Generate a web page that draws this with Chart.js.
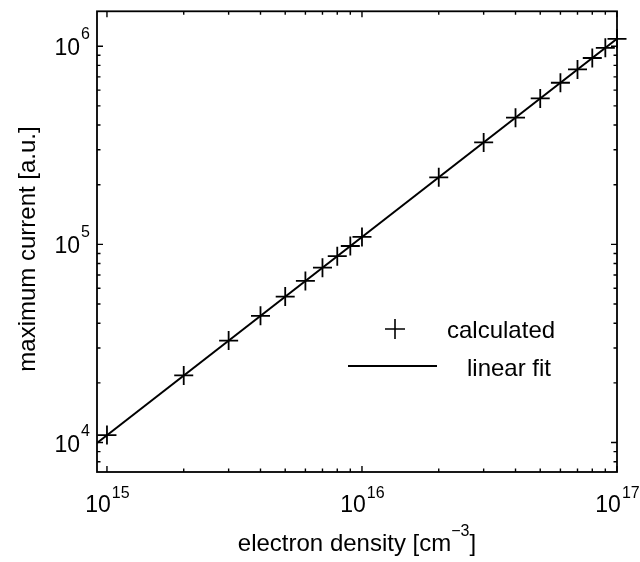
<!DOCTYPE html>
<html>
<head>
<meta charset="utf-8">
<script src="https://cdn.jsdelivr.net/npm/chart.js@4/dist/chart.umd.min.js"></script>
<style>
  html, body { margin: 0; padding: 0; background: #fff; }
  #wrap { width: 640px; height: 562px; position: relative; }
</style>
</head>
<body>
<div id="wrap"><canvas id="chart"></canvas></div>
<script>
// electron density [cm^-3]
const densities = [1e15, 2e15, 3e15, 4e15, 5e15, 6e15, 7e15, 8e15, 9e15,
                   1e16, 2e16, 3e16, 4e16, 5e16, 6e16, 7e16, 8e16, 9e16, 1e17];
// maximum current [a.u.]
const currents = [1.09e4, 2.18e4, 3.27e4, 4.36e4, 5.45e4, 6.54e4, 7.63e4, 8.72e4, 9.81e4,
                  1.09e5, 2.18e5, 3.27e5, 4.36e5, 5.45e5, 6.54e5, 7.63e5, 8.72e5, 9.81e5, 1.09e6];
// linear fit end points
const fitX = [9.14e14, 1e17];
const fitY = [9.95e3, 1.09e6];

const xMajor = [1e15, 1e16, 1e17];
const xMajorExp = ['15', '16', '17'];
const yMajor = [1e4, 1e5, 1e6];
const yMajorExp = ['4', '5', '6'];
const legendLabels = ['calculated', 'linear fit'];

const FONT = '"Liberation Sans", Arial, sans-serif';

function minorTicks(min, max) {
    const out = [];
    for (let e = Math.floor(Math.log10(min)); e <= Math.ceil(Math.log10(max)); e++) {
        for (let m = 1; m <= 9; m++) {
            const v = m * Math.pow(10, e);
            if (v >= min * 0.999 && v <= max * 1.001) out.push({ v, major: m === 1 });
        }
    }
    return out;
}

function drawCross(ctx, x, y, r) {
    ctx.beginPath();
    ctx.moveTo(x - r, y); ctx.lineTo(x + r, y);
    ctx.moveTo(x, y - r); ctx.lineTo(x, y + r);
    ctx.stroke();
}

const framePlugin = {
    id: 'frame',
    afterDraw(chart) {
        const { ctx, chartArea: a, scales: { x, y } } = chart;
        ctx.save();
        ctx.strokeStyle = '#000';
        ctx.fillStyle = '#000';
        ctx.lineWidth = 1.8;
        ctx.strokeRect(a.left, a.top, a.right - a.left, a.bottom - a.top);

        // inward ticks on all four sides
        ctx.lineWidth = 1.4;
        ctx.beginPath();
        minorTicks(x.min, x.max).forEach(t => {
            const px = x.getPixelForValue(t.v);
            const len = t.major ? 6 : 3.5;
            ctx.moveTo(px, a.bottom); ctx.lineTo(px, a.bottom - len);
            ctx.moveTo(px, a.top); ctx.lineTo(px, a.top + len);
        });
        minorTicks(y.min, y.max).forEach(t => {
            const py = y.getPixelForValue(t.v);
            const len = t.major ? 6 : 3.5;
            ctx.moveTo(a.left, py); ctx.lineTo(a.left + len, py);
            ctx.moveTo(a.right, py); ctx.lineTo(a.right - len, py);
        });
        ctx.stroke();

        // tick labels 10^n
        ctx.textBaseline = 'alphabetic';
        xMajor.forEach((v, i) => {
            const px = x.getPixelForValue(v);
            ctx.font = '23px ' + FONT;
            const w1 = ctx.measureText('10').width;
            ctx.font = '16px ' + FONT;
            const w2 = ctx.measureText(xMajorExp[i]).width;
            const start = px - (w1 + w2) / 2;
            ctx.textAlign = 'left';
            ctx.font = '23px ' + FONT;
            ctx.fillText('10', start, a.bottom + 40);
            ctx.font = '16px ' + FONT;
            ctx.fillText(xMajorExp[i], start + w1 + 1, a.bottom + 26);
        });
        yMajor.forEach((v, i) => {
            const py = y.getPixelForValue(v);
            ctx.font = '16px ' + FONT;
            const w2 = ctx.measureText(yMajorExp[i]).width;
            ctx.textAlign = 'right';
            ctx.fillText(yMajorExp[i], a.left - 7, py - 7);
            ctx.font = '23px ' + FONT;
            ctx.fillText('10', a.left - 8 - w2, py + 9);
        });

        // axis titles
        ctx.font = '24px ' + FONT;
        const cx = (a.left + a.right) / 2;
        const t1 = 'electron density [cm';
        const w1 = ctx.measureText(t1).width;
        ctx.font = '16px ' + FONT;
        const sup = '\u22123';
        const ws = ctx.measureText(sup).width;
        ctx.font = '24px ' + FONT;
        const w3 = ctx.measureText(']').width;
        let sx = cx - (w1 + ws + w3) / 2;
        ctx.textAlign = 'left';
        ctx.fillText(t1, sx, 551);
        ctx.font = '16px ' + FONT;
        ctx.fillText(sup, sx + w1, 536);
        ctx.font = '24px ' + FONT;
        ctx.fillText(']', sx + w1 + ws, 551);

        ctx.save();
        ctx.translate(35, 249);
        ctx.rotate(-Math.PI / 2);
        ctx.textAlign = 'center';
        ctx.font = '24px ' + FONT;
        ctx.fillText('maximum current [a.u.]', 0, 0);
        ctx.restore();

        // legend
        ctx.lineWidth = 1.6;
        drawCross(ctx, 395, 329, 10);
        ctx.lineWidth = 2;
        ctx.beginPath();
        ctx.moveTo(348, 366); ctx.lineTo(437, 366);
        ctx.stroke();
        ctx.font = '24px ' + FONT;
        ctx.textAlign = 'left';
        ctx.fillText(legendLabels[0], 447, 338);
        ctx.fillText(legendLabels[1], 467, 376);
        ctx.restore();
    }
};

new Chart(document.getElementById('chart'), {
    type: 'scatter',
    data: {
        datasets: [
            {
                label: legendLabels[1],
                data: fitX.map((v, i) => ({ x: v, y: fitY[i] })),
                showLine: true,
                borderColor: '#000',
                borderWidth: 2,
                pointRadius: 0,
                order: 2
            },
            {
                label: legendLabels[0],
                data: densities.map((v, i) => ({ x: v, y: currents[i] })),
                pointStyle: 'cross',
                pointRadius: 9.5,
                borderColor: '#000',
                backgroundColor: '#000',
                borderWidth: 1.8,
                clip: false,
                order: 1
            }
        ]
    },
    options: {
        responsive: true,
        maintainAspectRatio: false,
        animation: false,
        layout: { padding: { left: 97, top: 5, right: 23, bottom: 90 } },
        plugins: { legend: { display: false }, tooltip: { enabled: false } },
        scales: {
            x: { type: 'logarithmic', min: 9.14e14, max: 1e17, display: false },
            y: { type: 'logarithmic', min: 7.1e3, max: 1.5e6, display: false }
        }
    },
    plugins: [framePlugin]
});
</script>
</body>
</html>
